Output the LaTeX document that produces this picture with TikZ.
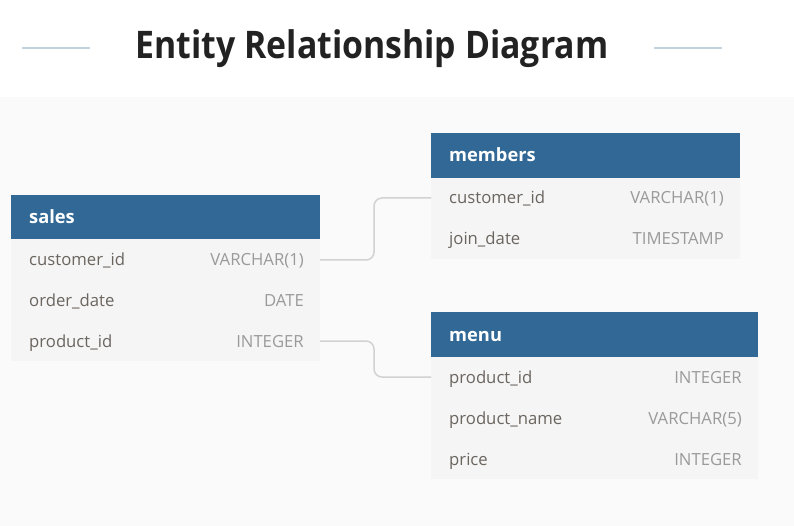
\documentclass[tikz,border=0pt]{standalone}
\usepackage{fontspec}
\setmainfont{Open Sans}
\definecolor{hdr}{HTML}{316895}
\definecolor{body}{HTML}{F5F5F5}
\definecolor{bg}{HTML}{FAFAFA}
\definecolor{namec}{HTML}{6B655F}
\definecolor{typec}{HTML}{9A9A9A}
\definecolor{deco}{HTML}{C3D3DE}
\definecolor{conn}{HTML}{D2D2D2}
\definecolor{titlec}{HTML}{222222}
\tikzset{
  hdrbox/.style={fill=hdr, draw=none},
  bodybox/.style={fill=body, draw=none},
  tname/.style={anchor=base west, text=white, font=\fontsize{18.3}{21}\selectfont\bfseries, inner sep=0pt},
  fname/.style={anchor=base west, text=namec, font=\fontsize{16.7}{20}\selectfont, inner sep=0pt},
  ftype/.style={anchor=base east, text=typec, font=\fontsize{16.7}{20}\selectfont, inner sep=0pt},
  conline/.style={draw=conn, line width=1.5pt, rounded corners=8pt},
  decoline/.style={draw=deco, line width=2pt},
}
\begin{document}
\begin{tikzpicture}[x=1pt,y=-1pt]
\useasboundingbox (0,0) rectangle (794,526);
\fill[white] (0,0) rectangle (794,97);
\fill[bg] (0,97) rectangle (794,526);
% title
\node[text=titlec, font=\fontsize{38}{44}\selectfont\bfseries, inner sep=0pt, xscale=0.89, anchor=base] (title) at (372,58.5) {Entity Relationship Diagram};
\coordinate (l1) at (22,48); \coordinate (l2) at (90,48);
\coordinate (r1) at (654,48); \coordinate (r2) at (722,48);
\draw[decoline] (l1) -- (l2);
\draw[decoline] (r1) -- (r2);
% sales
\fill[hdrbox] (11,195) rectangle (320,239);
\fill[bodybox] (11,239) rectangle (320,361);
\node[tname] (salesT) at (29,224) {sales};
\node[fname] (s1n) at (29,266) {customer\_id};
\node[ftype] (s1t) at (304,266) {VARCHAR(1)};
\node[fname] (s2n) at (29,306) {order\_date};
\node[ftype] (s2t) at (304,306) {DATE};
\node[fname] (s3n) at (29,347) {product\_id};
\node[ftype] (s3t) at (304,347) {INTEGER};
\coordinate (s1r) at (320,260);
\coordinate (s3r) at (320,341);
% members
\fill[hdrbox] (431,133) rectangle (740,178);
\fill[bodybox] (431,178) rectangle (740,259);
\node[tname] (memT) at (449,162) {members};
\node[fname] (m1n) at (449,204) {customer\_id};
\node[ftype] (m1t) at (724,204) {VARCHAR(1)};
\node[fname] (m2n) at (449,245) {join\_date};
\node[ftype] (m2t) at (724,245) {TIMESTAMP};
\coordinate (m1l) at (431,198);
% menu
\fill[hdrbox] (431,312) rectangle (758,357);
\fill[bodybox] (431,357) rectangle (758,479);
\node[tname] (menuT) at (449,341) {menu};
\node[fname] (p1n) at (449,383) {product\_id};
\node[ftype] (p1t) at (742,383) {INTEGER};
\node[fname] (p2n) at (449,424) {product\_name};
\node[ftype] (p2t) at (742,424) {VARCHAR(5)};
\node[fname] (p3n) at (449,465) {price};
\node[ftype] (p3t) at (742,465) {INTEGER};
\coordinate (p1l) at (431,377);
% connectors
\draw[conline] (s1r) -| (374,198) -- (m1l);
\draw[conline] (s3r) -| (374,377) -- (p1l);
\end{tikzpicture}
\end{document}
